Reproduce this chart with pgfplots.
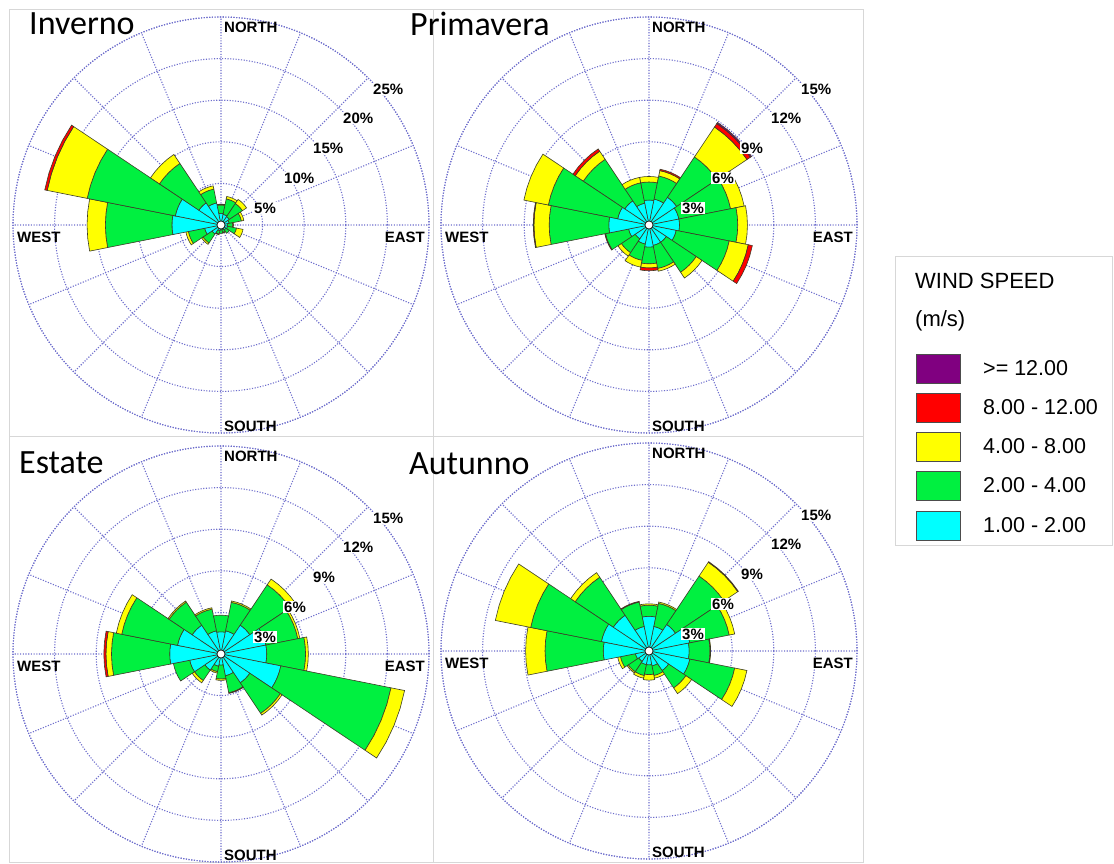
\documentclass[border=0pt]{standalone}
\usepackage{pgfplots}
\pgfplotsset{compat=1.18}
\usepackage{pgfplotstable}
\usepgfplotslibrary{polar}
\usepackage{fontspec}
\setmainfont{Liberation Sans}
\newfontfamily\titlefont{Carlito}

\definecolor{ccyan}{RGB}{0,255,255}
\definecolor{cgreen}{RGB}{0,240,64}
\definecolor{cyellow}{RGB}{255,255,0}
\definecolor{cred}{RGB}{255,0,0}
\definecolor{cpurple}{RGB}{128,0,128}
\definecolor{gridcol}{RGB}{110,110,205}
\definecolor{edgecol}{RGB}{60,60,40}
\definecolor{framecol}{RGB}{215,215,215}

% percent frequency per class: c1 1-2, c2 2-4, c3 4-8, c4 8-12, c5 >=12 m/s
% d = direction index (0 = N, clockwise in steps of 22.5 deg)
\pgfplotstableread{
d c1 c2 c3 c4 c5
0 1.4 1.0 0.1 0 0
1 1.3 1.9 0.3 0 0
2 1.2 1.9 0.6 0 0
3 1.0 1.5 0.3 0 0
4 0.8 0.6 0.1 0 0
5 0.8 1.1 0.8 0 0
6 0.7 0.5 0 0 0
7 0.6 0.3 0.1 0 0
8 0.6 0.4 0 0 0
9 0.7 0.4 0.1 0 0
10 1.3 1.3 0.2 0 0
11 2.0 2.0 0.3 0 0
12 5.9 8.0 2.2 0 0
13 5.6 10.8 4.9 0.3 0
14 3.2 5.7 1.3 0 0
15 2.7 1.7 0.4 0 0
}\inverno

\pgfplotstableread{
d c1 c2 c3 c4 c5
0 1.8 1.3 0.4 0 0
1 1.9 1.7 0.4 0.1 0
2 2.4 3.5 2.6 0.3 0.1
3 2.2 3.8 1.0 0 0
4 2.2 4.2 0.7 0 0
5 2.0 3.9 1.4 0.3 0
6 1.5 2.6 0.5 0 0
7 1.5 1.7 0.2 0 0
8 1.6 1.2 0.3 0.2 0
9 1.4 1.2 0.5 0 0
10 1.2 1.2 0.3 0 0
11 1.5 1.7 0 0.05 0
12 2.9 4.3 1.1 0.05 0
13 2.3 5.1 1.8 0 0
14 2.1 3.6 0.7 0.2 0
15 1.6 1.5 0.4 0 0
}\primavera

\pgfplotstableread{
d c1 c2 c3 c4 c5
0 1.6 1.2 0 0 0
1 1.7 2.1 0.1 0 0
2 2.5 3.5 0.5 0 0
3 3.3 2.35 0.15 0 0
4 3.3 2.8 0.2 0 0
5 4.4 8.1 1.0 0 0
6 2.5 2.65 0.15 0 0
7 1.6 1.25 0 0.05 0
8 0.8 1.0 0.1 0 0
9 0.9 0.4 0.1 0 0
10 1.4 0.9 0.2 0 0
11 2.3 1.2 0 0 0
12 3.7 4.2 0.4 0.15 0
13 3.2 4.1 0.4 0 0
14 2.5 2.0 0.1 0 0
15 1.7 1.6 0.1 0 0
}\estate

\pgfplotstableread{
d c1 c2 c3 c4 c5
0 2.5 0.8 0.1 0 0
1 1.8 1.7 0.1 0 0
2 2.3 4.2 1.2 0.05 0
3 3.0 2.9 0.4 0 0
4 2.9 1.5 0.05 0 0
5 3.0 3.3 0.9 0 0
6 1.7 1.5 0.5 0 0
7 1.1 0.7 0.2 0 0
8 1.0 0.7 0.4 0 0
9 1.0 0.8 0.2 0 0
10 0.9 0.9 0.1 0 0
11 1.0 1.1 0.2 0 0
12 3.3 4.2 1.4 0 0
13 3.5 5.2 2.6 0 0
14 3.1 3.3 0.4 0 0
15 1.8 1.8 0 0.05 0
}\autunno

% one annular sector of a petal: #1 centre angle, #2 inner r, #3 outer r, #4 colour
\newcommand\sector[4]{%
  \pgfmathsetmacro\aA{#1-11.25}\pgfmathsetmacro\aB{#1-5.625}%
  \pgfmathsetmacro\aC{#1}\pgfmathsetmacro\aD{#1+5.625}\pgfmathsetmacro\aE{#1+11.25}%
  \pgfmathsetmacro\rI{#2}\pgfmathsetmacro\rO{#3}%
  \edef\tmp{\noexpand\addplot[fill=#4, draw=edgecol, line width=0.6pt] coordinates {(\aA,\rI) (\aB,\rI) (\aC,\rI) (\aD,\rI) (\aE,\rI) (\aE,\rO) (\aD,\rO) (\aC,\rO) (\aB,\rO) (\aA,\rO) (\aA,\rI)};}%
  \tmp
}

\newcommand\rose[1]{%
  \pgfplotsinvokeforeach{0,...,15}{%
    \pgfplotstablegetelem{##1}{c1}\of#1\let\vA\pgfplotsretval
    \pgfplotstablegetelem{##1}{c2}\of#1\let\vB\pgfplotsretval
    \pgfplotstablegetelem{##1}{c3}\of#1\let\vC\pgfplotsretval
    \pgfplotstablegetelem{##1}{c4}\of#1\let\vD\pgfplotsretval
    \pgfplotstablegetelem{##1}{c5}\of#1\let\vE\pgfplotsretval
    \pgfmathsetmacro\th{90-22.5*##1}%
    \pgfmathsetmacro\rA{\vA}%
    \pgfmathsetmacro\rB{\rA+\vB}%
    \pgfmathsetmacro\rC{\rB+\vC}%
    \pgfmathsetmacro\rD{\rC+\vD}%
    \pgfmathsetmacro\rE{\rD+\vE}%
    \let\thS\th \let\rAS\rA \let\rBS\rB \let\rCS\rC \let\rDS\rD \let\rES\rE
    \sector{\thS}{0}{\rAS}{ccyan}%
    \ifdim\vB pt>0pt \sector{\thS}{\rAS}{\rBS}{cgreen}\fi
    \ifdim\vC pt>0pt \sector{\thS}{\rBS}{\rCS}{cyellow}\fi
    \ifdim\vD pt>0pt \sector{\thS}{\rCS}{\rDS}{cred}\fi
    \ifdim\vE pt>0pt \sector{\thS}{\rDS}{\rES}{cpurple}\fi
  }%
}

\pgfplotsset{
  roseaxis/.style={
    anchor=center, scale only axis, width=416pt, height=416pt,
    ymin=0, xtick={0,22.5,...,337.5},
    xticklabels={}, yticklabels={}, major tick length=0pt,
    grid=major, major grid style={gridcol, dash pattern=on 1.1pt off 1.6pt, line width=1.1pt},
    x axis line style={gridcol, dash pattern=on 1.1pt off 1.6pt, line width=1.1pt},
    y axis line style={draw=none},
    clip=false, no markers,
  },
}

\tikzset{
  dl/.style={font=\bfseries\fontsize{15}{18}\selectfont, inner sep=0pt},
  pl/.style={font=\bfseries\fontsize{15}{18}\selectfont, inner sep=1pt, fill=white, anchor=west},
}

\newcommand\dirlabels[2]{%
  \node[anchor=west,dl] at (#1+3,#2+197.5) {NORTH};
  \node[anchor=west,dl] at (#1+3,#2-201) {SOUTH};
  \node[anchor=west,dl] at (#1-204,#2-12) {WEST};
  \node[anchor=east,dl] at (#1+204,#2-12) {EAST};
}
\newcommand\pctlabels[7]{%
  \node[pl] at (#1+32,#2+17) {#3\%};
  \node[pl] at (#1+62,#2+47) {#4\%};
  \node[pl] at (#1+91,#2+77) {#5\%};
  \node[pl] at (#1+121,#2+107) {#6\%};
  \node[pl] at (#1+151,#2+136) {#7\%};
}

\begin{document}
\begin{tikzpicture}[x=1pt,y=1pt]
\path[use as bounding box, fill=white] (0,0) rectangle (1114,863);
\coordinate (cI) at (221,638);
\coordinate (cP) at (649,638);
\coordinate (cE) at (221,209);
\coordinate (cA) at (649,212);
% panel frames
\draw[framecol, line width=0.8pt] (9,863-9) rectangle (433,863-436);
\draw[framecol, line width=0.8pt] (433,863-9) rectangle (863,863-436);
\draw[framecol, line width=0.8pt] (9,863-436) rectangle (433,863-862);
\draw[framecol, line width=0.8pt] (433,863-436) rectangle (863,863-862);

% Inverno
\begin{polaraxis}[roseaxis, at={(cI)}, ymax=25, ytick={5,10,15,20,25}]
\rose{\inverno}
\end{polaraxis}
% Primavera
\begin{polaraxis}[roseaxis, at={(cP)}, ymax=15, ytick={3,6,9,12,15}]
\rose{\primavera}
\end{polaraxis}
% Estate
\begin{polaraxis}[roseaxis, at={(cE)}, ymax=15, ytick={3,6,9,12,15}]
\rose{\estate}
\end{polaraxis}
% Autunno
\begin{polaraxis}[roseaxis, at={(cA)}, ymax=15, ytick={3,6,9,12,15}]
\rose{\autunno}
\end{polaraxis}

\foreach \cx/\cy in {221/638, 649/638, 221/209, 649/212}{
  \draw[fill=white, draw=black, line width=0.6pt] (\cx,\cy) circle (4);
  \dirlabels{\cx}{\cy}
}
\pctlabels{221}{638}{5}{10}{15}{20}{25}
\pctlabels{649}{638}{3}{6}{9}{12}{15}
\pctlabels{221}{209}{3}{6}{9}{12}{15}
\pctlabels{649}{212}{3}{6}{9}{12}{15}

% titles
\node[anchor=base west, inner sep=0pt, font=\titlefont\fontsize{34}{38}\selectfont] at (29,863-35) {Inverno};
\node[anchor=base west, inner sep=0pt, font=\titlefont\fontsize{34}{38}\selectfont] at (410,863-36) {Primavera};
\node[anchor=base west, inner sep=0pt, font=\titlefont\fontsize{34}{38}\selectfont] at (19,863-474) {Estate};
\node[anchor=base west, inner sep=0pt, font=\titlefont\fontsize{34}{38}\selectfont] at (409,863-475) {Autunno};

% legend
\draw[framecol, line width=0.8pt] (895,863-256) rectangle (1112,863-545);
\node[anchor=base west, inner sep=0pt, font=\fontsize{22}{26}\selectfont] at (915,863-289) {WIND SPEED};
\node[anchor=base west, inner sep=0pt, font=\fontsize{22}{26}\selectfont] at (915,863-327) {(m/s)};
\foreach \c/\t/\y in {cpurple/{>= 12.00}/354, cred/{8.00 - 12.00}/393, cyellow/{4.00 - 8.00}/432, cgreen/{2.00 - 4.00}/471, ccyan/{1.00 - 2.00}/511}{
  \draw[fill=\c, draw=black!70, line width=0.8pt] (916,863-\y) rectangle (960,863-\y-29);
  \node[anchor=west, inner sep=0pt, font=\fontsize{21.5}{25}\selectfont] at (983,863-\y-14.5) {\t};
}
\end{tikzpicture}
\end{document}
